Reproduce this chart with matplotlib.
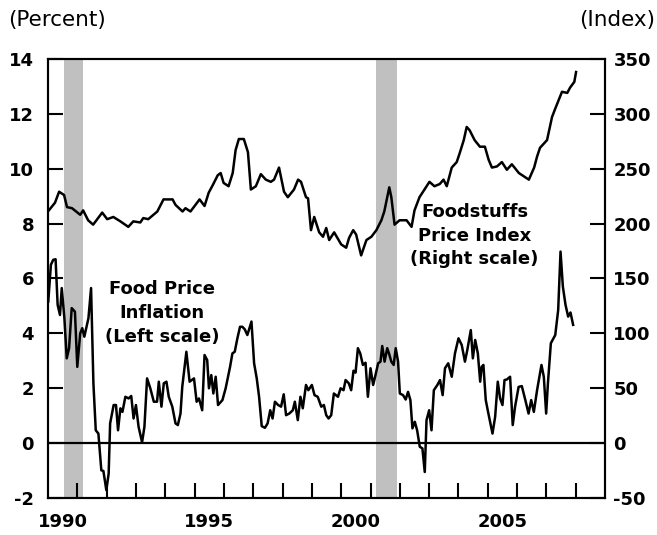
import matplotlib.pyplot as plt

plt.rcParams['axes.unicode_minus'] = False

# 食品価格インフレ率（左軸, %）
infl_t = [1990.01, 1990.10, 1990.18, 1990.26, 1990.33, 1990.41, 1990.47, 1990.56, 1990.64, 1990.72,
          1990.81, 1990.92, 1991.00, 1991.10, 1991.17, 1991.24, 1991.38, 1991.47, 1991.55, 1991.63,
          1991.72, 1991.82, 1991.89, 1991.99, 1992.07, 1992.12, 1992.24, 1992.32, 1992.39, 1992.47,
          1992.54, 1992.64, 1992.75, 1992.84, 1992.92, 1993.00, 1993.09, 1993.21, 1993.29, 1993.38,
          1993.49, 1993.61, 1993.72, 1993.78, 1993.87, 1993.95, 1994.04, 1994.12, 1994.24, 1994.35,
          1994.43, 1994.52, 1994.58, 1994.72, 1994.83, 1994.98, 1995.07, 1995.15, 1995.26, 1995.34,
          1995.43, 1995.49, 1995.57, 1995.64, 1995.72, 1995.80, 1995.95, 1996.06, 1996.21, 1996.29,
          1996.37, 1996.46, 1996.55, 1996.63, 1996.71, 1996.80, 1996.94, 1997.03, 1997.12, 1997.20,
          1997.29, 1997.40, 1997.49, 1997.58, 1997.66, 1997.74, 1997.85, 1997.95, 1998.04, 1998.12,
          1998.23, 1998.35, 1998.42, 1998.52, 1998.61, 1998.69, 1998.80, 1998.88, 1999.00, 1999.09,
          1999.20, 1999.32, 1999.41, 1999.49, 1999.57, 1999.66, 1999.75, 1999.89, 1999.98, 2000.08,
          2000.15, 2000.26, 2000.34, 2000.42, 2000.49, 2000.57, 2000.65, 2000.74, 2000.83, 2000.91,
          2001.00, 2001.09, 2001.17, 2001.26, 2001.34, 2001.40, 2001.48, 2001.57, 2001.63, 2001.71,
          2001.79, 2001.86, 2001.94, 2002.00, 2002.11, 2002.20, 2002.28, 2002.36, 2002.43, 2002.51,
          2002.59, 2002.68, 2002.77, 2002.85, 2002.91, 2003.00, 2003.08, 2003.16, 2003.28, 2003.37,
          2003.46, 2003.54, 2003.65, 2003.77, 2003.88, 2004.00, 2004.11, 2004.22, 2004.30, 2004.42,
          2004.49, 2004.57, 2004.66, 2004.74, 2004.79, 2004.85, 2004.93, 2005.02, 2005.16, 2005.25,
          2005.34, 2005.42, 2005.50, 2005.57, 2005.65, 2005.76, 2005.85, 2005.93, 2006.05, 2006.16,
          2006.28, 2006.39, 2006.48, 2006.57, 2006.68, 2006.83, 2006.91, 2006.99, 2007.05, 2007.15,
          2007.30, 2007.40, 2007.48, 2007.56, 2007.65, 2007.74, 2007.82, 2007.91]
infl_v = [5.16, 6.50, 6.68, 6.70, 5.04, 4.67, 5.65, 4.55, 3.09, 3.46,
          4.92, 4.79, 2.78, 4.00, 4.19, 3.88, 4.55, 5.65, 2.18, 0.47,
          0.35, -0.99, -1.01, -1.71, -1.11, 0.72, 1.39, 1.39, 0.47, 1.27,
          1.14, 1.69, 1.63, 1.72, 0.90, 1.39, 0.60, 0.03, 0.60, 2.36,
          2.00, 1.51, 1.51, 2.24, 1.33, 2.18, 2.24, 1.69, 1.33, 0.72,
          0.66, 1.08, 2.05, 3.33, 2.24, 2.36, 1.51, 1.63, 1.20, 3.21,
          3.03, 2.00, 2.48, 1.81, 2.42, 1.39, 1.57, 2.00, 2.78, 3.27,
          3.33, 3.82, 4.24, 4.24, 4.15, 3.94, 4.43, 2.91, 2.36, 1.69,
          0.62, 0.56, 0.72, 1.20, 0.90, 1.51, 1.39, 1.33, 1.78, 1.02,
          1.08, 1.20, 1.51, 0.84, 1.69, 1.27, 2.12, 1.93, 2.12, 1.75,
          1.69, 1.33, 1.39, 1.02, 0.90, 1.02, 1.81, 1.69, 2.00, 1.93,
          2.30, 2.18, 1.93, 2.64, 2.57, 3.46, 3.27, 2.85, 2.93, 1.69,
          2.73, 2.12, 2.48, 2.91, 2.97, 3.54, 2.97, 3.46, 3.27, 2.97,
          2.85, 3.46, 2.97, 1.81, 1.75, 1.59, 1.87, 1.57, 0.54, 0.78,
          0.47, -0.13, -0.19, -1.05, 0.84, 1.20, 0.47, 1.93, 2.12, 2.30,
          1.75, 2.73, 2.91, 2.42, 3.27, 3.82, 3.58, 2.97, 3.39, 4.12,
          3.09, 3.76, 3.27, 2.24, 2.78, 2.85, 1.57, 1.08, 0.35, 0.96,
          2.24, 1.63, 1.39, 2.30, 2.32, 2.42, 0.66, 1.33, 2.05, 2.08,
          1.57, 1.08, 1.57, 1.14, 1.93, 2.85, 2.42, 1.08, 2.18, 3.64,
          3.94, 4.85, 6.98, 5.70, 5.04, 4.61, 4.76, 4.31]

# 食料品価格指数（右軸）
idx_t = [1990.03, 1990.24, 1990.38, 1990.55, 1990.65, 1990.82, 1991.10, 1991.20, 1991.37, 1991.54,
         1991.85, 1992.02, 1992.23, 1992.47, 1992.74, 1992.91, 1993.15, 1993.25, 1993.42, 1993.73,
         1993.94, 1994.25, 1994.35, 1994.59, 1994.69, 1994.86, 1995.03, 1995.17, 1995.34, 1995.48,
         1995.62, 1995.79, 1995.89, 1995.99, 1996.16, 1996.30, 1996.40, 1996.51, 1996.68, 1996.82,
         1996.92, 1997.09, 1997.26, 1997.43, 1997.60, 1997.71, 1997.88, 1998.05, 1998.18, 1998.39,
         1998.53, 1998.63, 1998.80, 1998.87, 1998.97, 1999.08, 1999.25, 1999.38, 1999.49, 1999.59,
         1999.76, 2000.00, 2000.17, 2000.27, 2000.41, 2000.51, 2000.68, 2000.86, 2001.03, 2001.20,
         2001.37, 2001.47, 2001.64, 2001.71, 2001.82, 2001.99, 2002.23, 2002.40, 2002.50, 2002.67,
         2002.84, 2003.01, 2003.18, 2003.36, 2003.49, 2003.60, 2003.77, 2003.94, 2004.04, 2004.18,
         2004.28, 2004.38, 2004.55, 2004.73, 2004.90, 2005.03, 2005.14, 2005.31, 2005.48, 2005.65,
         2005.82, 2006.06, 2006.23, 2006.40, 2006.58, 2006.68, 2006.78, 2007.02, 2007.19, 2007.29,
         2007.53, 2007.71, 2007.81, 2007.95, 2008.01]
idx_v = [212, 219, 229, 226, 215, 214, 208, 212, 203, 199,
         210, 204, 206, 202, 197, 202, 201, 205, 204, 211,
         222, 222, 217, 211, 214, 211, 217, 222, 216, 228,
         235, 244, 246, 237, 234, 246, 267, 277, 277, 265,
         231, 234, 245, 240, 238, 240, 251, 229, 224, 231,
         240, 238, 224, 223, 194, 206, 192, 188, 196, 185,
         192, 181, 178, 187, 194, 190, 171, 185, 188, 194,
         203, 211, 233, 224, 199, 203, 203, 197, 212, 224,
         231, 238, 234, 236, 240, 234, 251, 256, 264, 276,
         288, 285, 276, 270, 270, 258, 251, 252, 256, 249,
         254, 246, 243, 240, 251, 261, 269, 276, 297, 304,
         320, 319, 324, 329, 338]

recessions = [(1990.55, 1991.20), (2001.20, 2001.92)]
year_labels = ['1990', '1995', '2000', '2005']

fig = plt.figure(figsize=(6.57, 5.35), dpi=100)
ax = fig.add_axes([0.073, 0.069, 0.848, 0.821])
ax2 = ax.twinx()

for a, b in recessions:
    ax.axvspan(a, b, color='#c0c0c0', lw=0, zorder=0)

ax.axhline(0, color='black', lw=1.6, zorder=1)
ax.plot(infl_t, infl_v, color='black', lw=1.8, zorder=2)
ax2.plot(idx_t, idx_v, color='black', lw=1.8)

ax.set_xlim(1990, 2009)
ax.set_ylim(-2, 14)
ax2.set_ylim(-50, 350)

ax.set_yticks(range(-2, 15, 2))
ax2.set_yticks(range(-50, 351, 50))
ax.set_xticks(range(1991, 2009))
ax.set_xticklabels([])
ax.set_xticks([1990.5, 1995.5, 2000.5, 2005.5], minor=True)
ax.set_xticklabels(year_labels, minor=True)

ax.tick_params(axis='y', direction='in', length=11, width=1.5, pad=10, labelsize=13)
ax2.tick_params(axis='y', direction='in', length=11, width=1.5, pad=6, labelsize=13)
ax.tick_params(axis='x', which='major', direction='in', length=11, width=1.5)
ax.tick_params(axis='x', which='minor', length=0, pad=11, labelsize=13)
for lab in ax.get_yticklabels() + ax2.get_yticklabels() + ax.get_xticklabels(minor=True):
    lab.set_fontweight('bold')

for a in (ax, ax2):
    for s in a.spines.values():
        s.set_linewidth(1.5)

fig.text(0.012, 0.963, '(Percent)', fontsize=15.5, va='center', ha='left')
fig.text(0.997, 0.963, '(Index)', fontsize=15.5, va='center', ha='right')

ax.text(1993.9, 4.74, 'Food Price\nInflation\n(Left scale)', fontsize=13, fontweight='bold',
        ha='center', va='center', linespacing=1.4)
ax2.text(2004.55, 189, 'Foodstuffs\nPrice Index\n(Right scale)', fontsize=13, fontweight='bold',
         ha='center', va='center', linespacing=1.4)

fig.savefig('out.png', dpi=100)
